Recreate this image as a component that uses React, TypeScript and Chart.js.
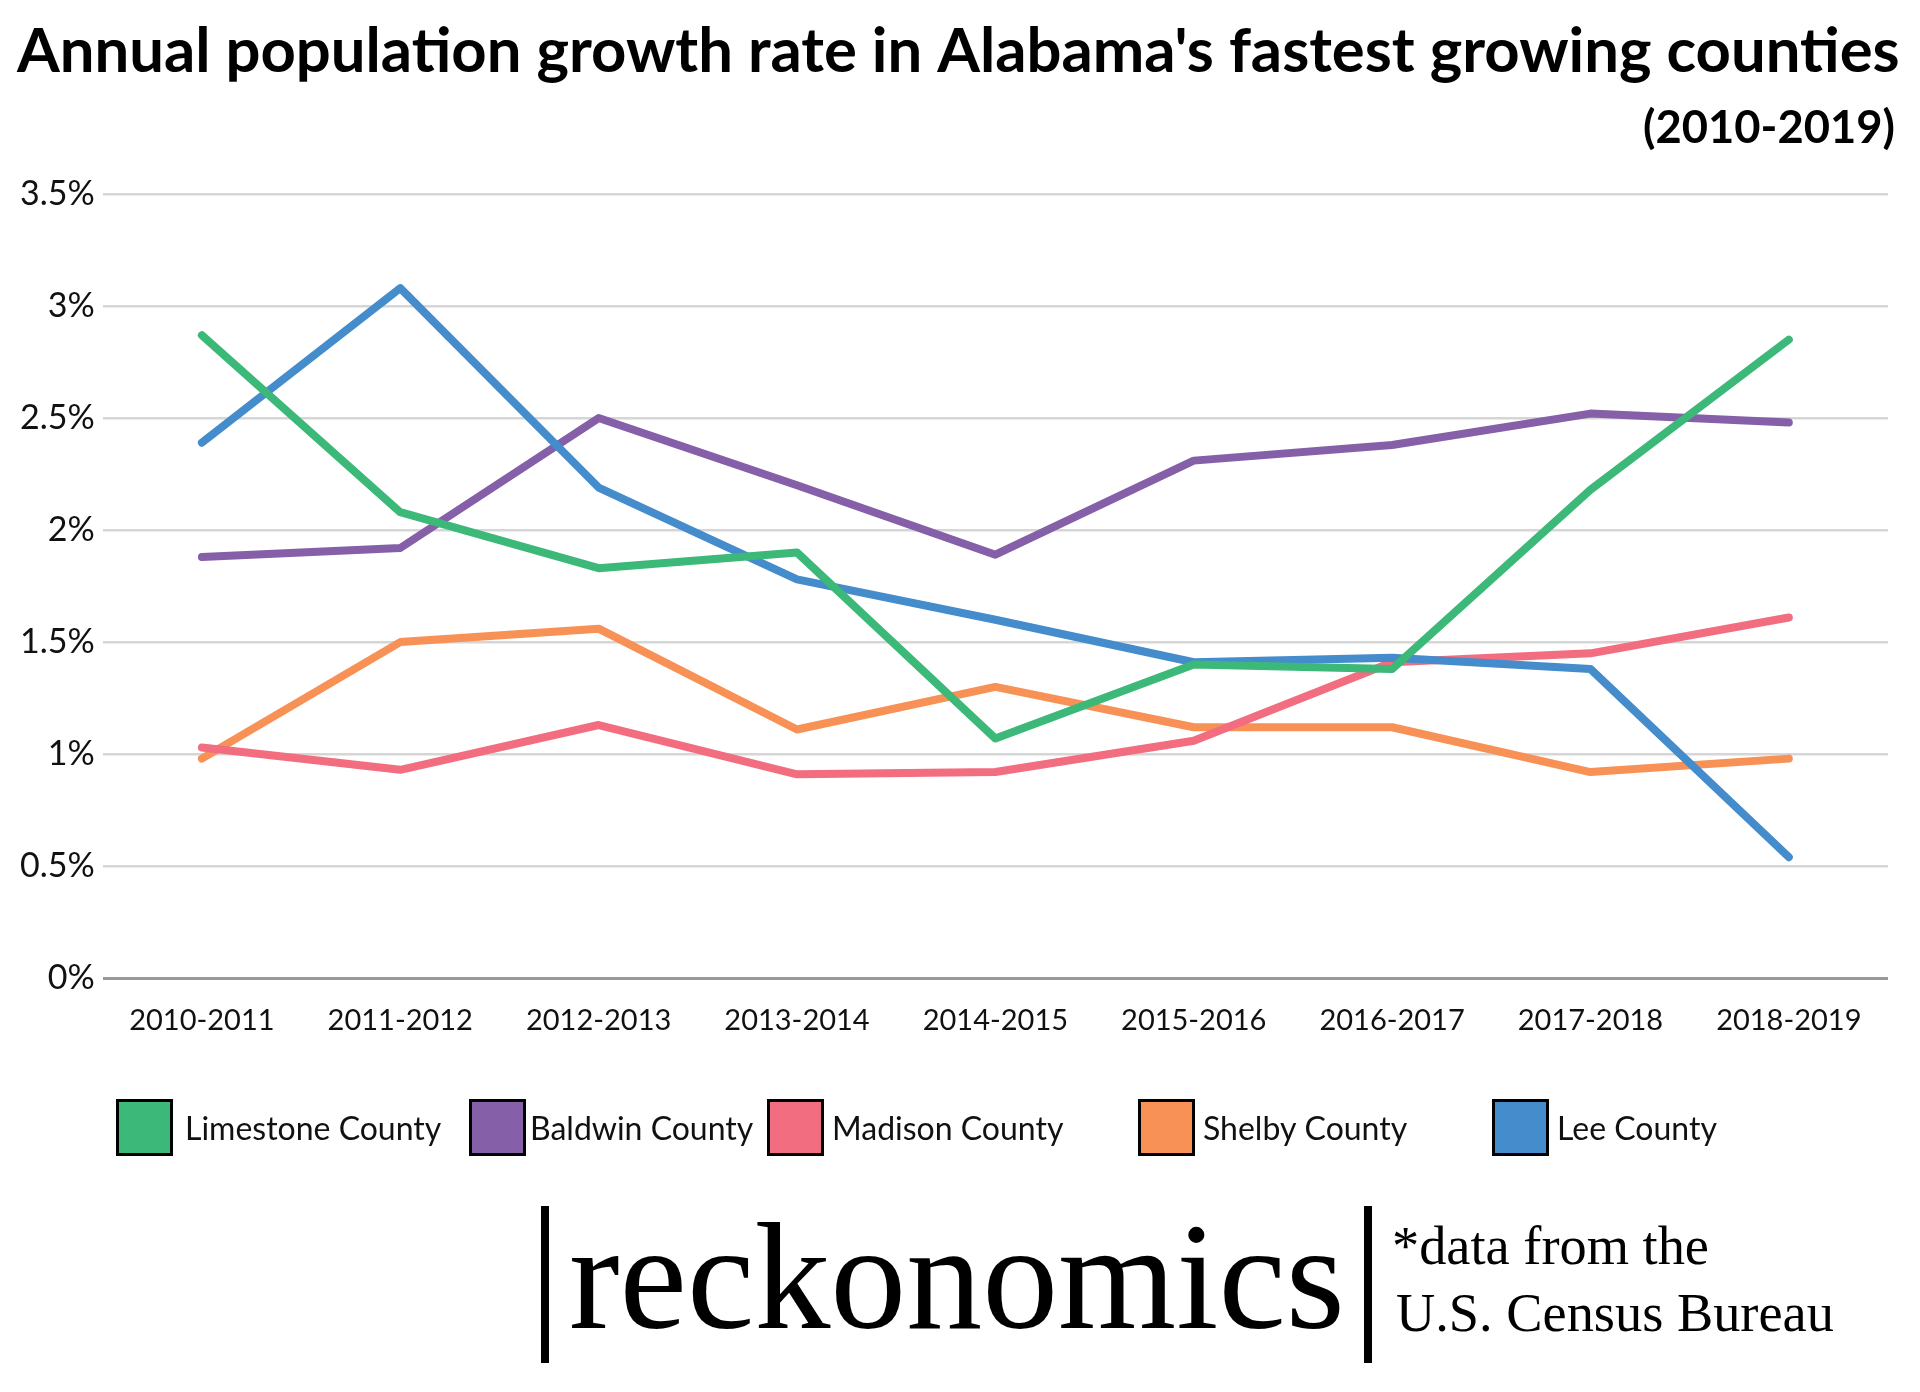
import React, { useEffect, useRef } from 'react';
import { Chart, registerables } from 'chart.js';
Chart.register(...registerables);

const periods = ['2010-2011', '2011-2012', '2012-2013', '2013-2014', '2014-2015', '2015-2016', '2016-2017', '2017-2018', '2018-2019'];
const countyNames = ['Limestone County', 'Baldwin County', 'Madison County', 'Shelby County', 'Lee County'];
const limestone = [2.87, 2.08, 1.83, 1.90, 1.07, 1.40, 1.38, 2.18, 2.85];
const baldwin = [1.88, 1.92, 2.50, 2.20, 1.89, 2.31, 2.38, 2.52, 2.48];
const madison = [1.03, 0.93, 1.13, 0.91, 0.92, 1.06, 1.41, 1.45, 1.61];
const shelby = [0.98, 1.50, 1.56, 1.11, 1.30, 1.12, 1.12, 0.92, 0.98];
const lee = [2.39, 3.08, 2.19, 1.78, 1.60, 1.41, 1.43, 1.38, 0.54];
const colors = ['#3cb878', '#8560a8', '#f26d7f', '#f79155', '#448ccb'];
const drawOrder = [0, 2, 3, 4, 1];

const titleText = "Annual population growth rate in Alabama's fastest growing counties";
const subtitleText = '(2010-2019)';
const brandText = 'reckonomics';
const sourceLines = ['*data from the', 'U.S. Census Bureau'];

const legendX = [116, 469, 767, 1138, 1492];
const legendTextOffset = [69, 61, 65, 65, 65];

function fitFont(ctx: CanvasRenderingContext2D, text: string, weight: string, family: string, target: number) {
  ctx.font = `${weight} 100px ${family}`;
  const w = ctx.measureText(text).width;
  return (100 * target) / w;
}

const decorPlugin = {
  id: 'decor',
  afterDraw(chart: any) {
    const ctx: CanvasRenderingContext2D = chart.ctx;
    ctx.save();
    ctx.fillStyle = '#000';
    // Title
    const ts = fitFont(ctx, titleText, 'bold', 'Lato', 1883);
    ctx.font = `bold ${ts}px Lato`;
    ctx.textAlign = 'left';
    ctx.textBaseline = 'alphabetic';
    ctx.fillText(titleText, 17, 72);
    const ss = fitFont(ctx, subtitleText, 'bold', 'Lato', 252);
    ctx.font = `bold ${ss}px Lato`;
    ctx.textAlign = 'right';
    ctx.fillText(subtitleText, 1895, 143);

    // Legend
    const ds = chart.data.datasets;
    ctx.textAlign = 'left';
    ctx.textBaseline = 'alphabetic';
    ctx.font = '32px Lato';
    ds.forEach((d: any, i: number) => {
      const x = legendX[i];
      const y = 1099;
      ctx.fillStyle = d.borderColor;
      ctx.fillRect(x, y, 57, 57);
      ctx.lineWidth = 3;
      ctx.strokeStyle = '#000';
      ctx.strokeRect(x + 1.5, y + 1.5, 54, 54);
      ctx.fillStyle = '#111';
      ctx.fillText(d.label, x + legendTextOffset[i], 1140);
    });

    // Footer
    ctx.fillStyle = '#000';
    ctx.fillRect(541, 1206, 8, 157);
    ctx.fillRect(1364, 1206, 8, 157);
    const bs = fitFont(ctx, brandText, 'normal', '"Liberation Serif"', 776);
    ctx.font = `${bs}px "Liberation Serif"`;
    ctx.textBaseline = 'alphabetic';
    ctx.textAlign = 'left';
    ctx.fillText(brandText, 569, 1328);
    const sz = fitFont(ctx, sourceLines[1], 'normal', '"Liberation Serif"', 438);
    ctx.font = `${sz}px "Liberation Serif"`;
    ctx.fillText(sourceLines[0], 1392, 1264);
    ctx.fillText(sourceLines[1], 1396, 1331);
    ctx.restore();
  },
};

export default function App() {
  const ref = useRef<HTMLCanvasElement>(null);
  useEffect(() => {
    if (!ref.current) return;
    const series = [limestone, baldwin, madison, shelby, lee];
    const chart = new Chart(ref.current, {
      type: 'line',
      data: {
        labels: periods,
        datasets: series.map((s, i) => ({
          label: countyNames[i],
          data: s,
          borderColor: colors[i],
          backgroundColor: colors[i],
          borderWidth: 8,
          pointRadius: 0,
          pointHoverRadius: 0,
          tension: 0,
          fill: false,
          borderCapStyle: 'round' as const,
          borderJoinStyle: 'round' as const,
          order: drawOrder[i],
        })),
      },
      options: {
        responsive: false,
        animation: false,
        layout: { padding: { top: 194, left: 12, right: 32, bottom: 337 } },
        plugins: {
          legend: { display: false },
          title: { display: false },
          tooltip: { enabled: false },
        },
        scales: {
          x: {
            offset: true,
            grid: { display: false },
            border: { display: false },
            ticks: {
              color: '#111',
              font: { family: 'Lato', size: 29 },
              padding: 17,
              maxRotation: 0,
              autoSkip: false,
            },
          },
          y: {
            min: 0,
            max: 3.5,
            border: { display: false },
            grid: {
              drawTicks: false,
              color: (c: any) => (c.tick && c.tick.value === 0 ? '#999999' : '#d6d6d6'),
              lineWidth: (c: any) => (c.tick && c.tick.value === 0 ? 3 : 2.5),
            },
            ticks: {
              stepSize: 0.5,
              color: '#111',
              font: { family: 'Lato', size: 34 },
              padding: 8,
              callback: (v: any) => `${v}%`,
            },
          },
        },
      },
      plugins: [decorPlugin],
    });
    return () => chart.destroy();
  }, []);
  return (
    <div style={{ position: 'fixed', left: 0, top: 0, width: 1920, height: 1392, background: '#fff' }}>
      <canvas ref={ref} width={1920} height={1392} style={{ display: 'block' }} />
    </div>
  );
}
